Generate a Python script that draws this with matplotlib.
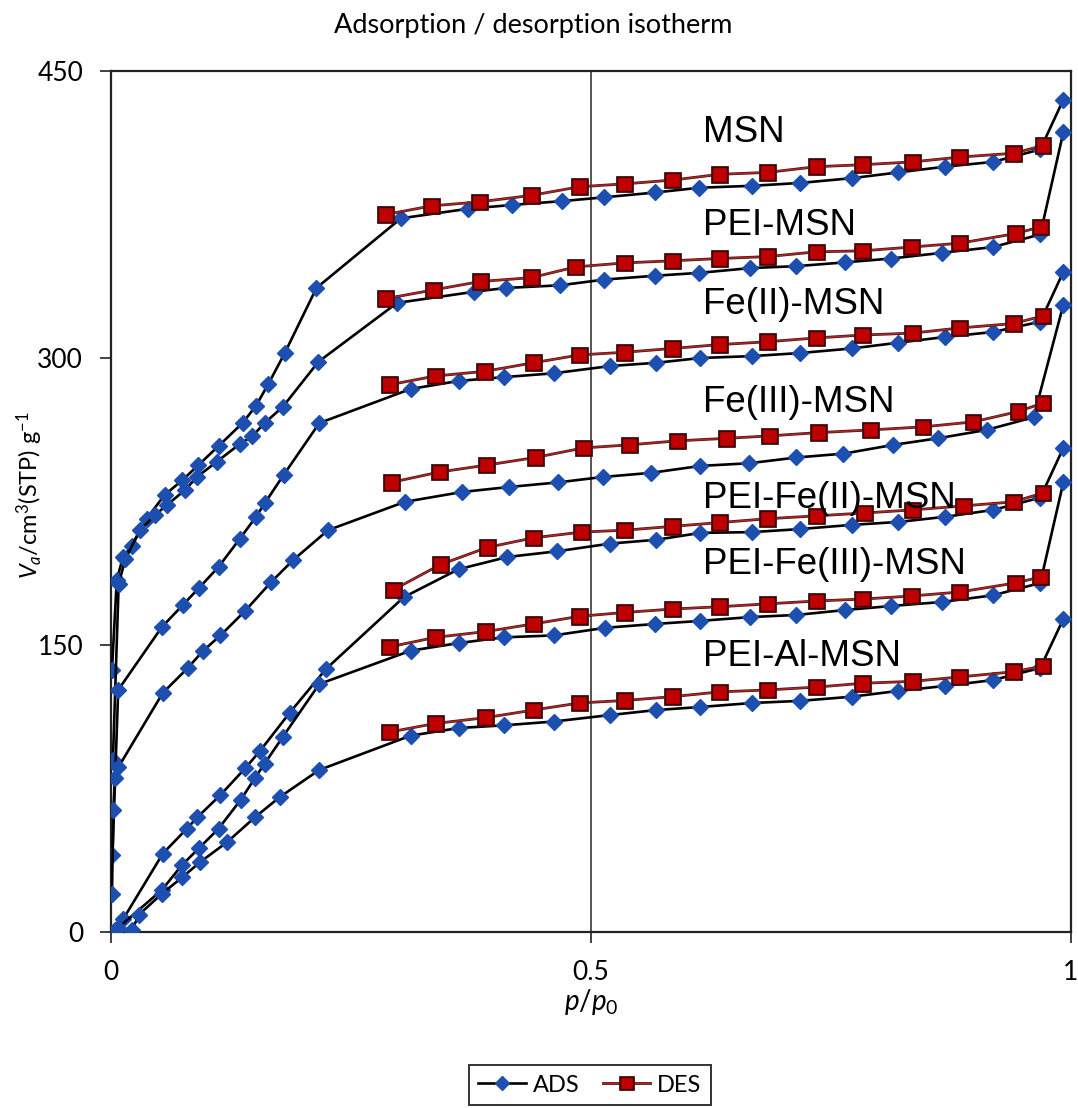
import matplotlib
matplotlib.use('Agg')
import matplotlib.pyplot as plt
import matplotlib.patheffects as pe
from matplotlib.lines import Line2D

plt.rcParams['mathtext.fontset'] = 'custom'
plt.rcParams['mathtext.rm'] = 'Lato'
plt.rcParams['mathtext.it'] = 'Lato:italic'

# ---------------- data ----------------
samples = ['MSN', 'PEI-MSN', 'Fe(II)-MSN', 'Fe(III)-MSN',
           'PEI-Fe(II)-MSN', 'PEI-Fe(III)-MSN', 'PEI-Al-MSN']

msn_ads_x = [0.001, 0.006, 0.0125, 0.022, 0.037, 0.056, 0.074, 0.091, 0.112, 0.137, 0.151, 0.164, 0.181, 0.214,
             0.302, 0.372, 0.418, 0.47, 0.514, 0.567, 0.613, 0.668, 0.718, 0.772, 0.82, 0.869, 0.919, 0.968, 0.992]
msn_ads_y = [137, 184, 196, 202, 216, 228.5, 236, 244, 254, 266, 275, 286.5, 302.6, 336.6,
             373, 378, 380, 382, 384, 386.5, 389, 390, 391.5, 394, 397, 400, 402.5, 409, 435]
msn_des_x = [0.971, 0.94, 0.884, 0.835, 0.783, 0.735, 0.684, 0.634, 0.585, 0.535, 0.488, 0.438, 0.384, 0.334, 0.286]
msn_des_y = [411, 407, 405, 402.5, 401, 400, 397, 396, 393, 391, 389.5, 385, 381.6, 379.5, 375]

pei_msn_ads_x = [0.002, 0.008, 0.015, 0.03, 0.046, 0.058, 0.077, 0.09, 0.11, 0.134, 0.147, 0.16, 0.179, 0.216,
                 0.298, 0.378, 0.411, 0.468, 0.514, 0.567, 0.613, 0.666, 0.714, 0.765, 0.813, 0.866, 0.919, 0.968, 0.992]
pei_msn_ads_y = [90, 182, 195, 210, 218, 223, 231, 238, 245.7, 255, 259, 266, 274.5, 298,
                 328.8, 334.6, 336.6, 338, 341, 343, 344.5, 347, 348, 350, 352, 355, 358, 364.6, 418]
pei_msn_des_x = [0.968, 0.942, 0.884, 0.834, 0.783, 0.735, 0.684, 0.634, 0.585, 0.535, 0.484, 0.438, 0.385, 0.336, 0.286]
pei_msn_des_y = [368.5, 365, 360, 358, 356, 355.5, 353, 352, 350.8, 349.7, 347.6, 342, 340, 335.6, 331]

fe2_msn_ads_x = [0.0015, 0.0075, 0.053, 0.075, 0.092, 0.112, 0.134, 0.151, 0.16, 0.18, 0.217,
                 0.312, 0.362, 0.409, 0.461, 0.52, 0.568, 0.614, 0.668, 0.718, 0.772, 0.82, 0.869, 0.919, 0.968, 0.992]
fe2_msn_ads_y = [40, 126.5, 159.4, 171, 180, 190.8, 205.4, 217, 224, 239, 266,
                 283.8, 288, 290, 292, 295.8, 297.5, 300, 301, 302.6, 305, 308, 311, 313.6, 319, 345]
fe2_msn_des_x = [0.971, 0.94, 0.884, 0.835, 0.783, 0.735, 0.684, 0.634, 0.585, 0.535, 0.488, 0.44, 0.389, 0.338, 0.29]
fe2_msn_des_y = [322, 318, 315.7, 313, 312, 310.5, 308.5, 307, 305, 303, 301.6, 297.5, 293, 290.6, 286]

fe3_msn_ads_x = [0.001, 0.0025, 0.004, 0.0075, 0.054, 0.08, 0.096, 0.114, 0.14, 0.167, 0.19, 0.226,
                 0.306, 0.366, 0.415, 0.466, 0.512, 0.563, 0.614, 0.665, 0.714, 0.763, 0.815, 0.861, 0.912, 0.961, 0.992]
fe3_msn_ads_y = [20, 64, 80.5, 86, 125, 138, 147, 155, 168, 183, 194.5, 210,
                 224.8, 230, 232.6, 235, 237.8, 240, 243.6, 245, 248, 250, 254.6, 258, 262.4, 269, 327.8]
fe3_msn_des_x = [0.971, 0.945, 0.898, 0.846, 0.791, 0.737, 0.686, 0.641, 0.59, 0.54, 0.492, 0.442, 0.391, 0.342, 0.292]
fe3_msn_des_y = [276.5, 272, 266.6, 264, 262.4, 261, 259.3, 258, 256.7, 254.6, 253, 248, 244, 240.4, 235]

pei_fe2_ads_x = [0.004, 0.013, 0.054, 0.079, 0.09, 0.114, 0.14, 0.155, 0.186, 0.224,
                 0.305, 0.362, 0.413, 0.465, 0.52, 0.568, 0.614, 0.668, 0.718, 0.772, 0.82, 0.869, 0.919, 0.968, 0.992]
pei_fe2_ads_y = [1, 7, 41, 54, 60, 71.6, 85.7, 94.5, 114.5, 137.5,
                 175, 189.6, 196, 199, 203, 205, 208.6, 209, 210.6, 212.8, 214.3, 217, 220.6, 227, 253]
pei_fe2_des_x = [0.971, 0.94, 0.888, 0.835, 0.785, 0.735, 0.684, 0.634, 0.585, 0.535, 0.49, 0.44, 0.392, 0.343, 0.294]
pei_fe2_des_y = [229.5, 224.8, 222.7, 220.6, 219, 217.5, 216, 214, 212, 210, 209, 206, 201, 192, 178.8]

pei_fe3_ads_x = [0.007, 0.053, 0.074, 0.092, 0.112, 0.135, 0.15, 0.16, 0.179, 0.217,
                 0.312, 0.362, 0.409, 0.461, 0.515, 0.567, 0.614, 0.666, 0.714, 0.765, 0.813, 0.866, 0.919, 0.968, 0.992]
pei_fe3_ads_y = [2, 22, 35, 44, 54, 69, 80.5, 88, 102, 129.6,
                 147, 151, 154, 155, 159, 161, 162.6, 164.6, 165.7, 168.3, 170.4, 172.5, 176, 182.4, 235]
pei_fe3_des_x = [0.968, 0.942, 0.884, 0.834, 0.783, 0.735, 0.684, 0.634, 0.585, 0.535, 0.488, 0.44, 0.39, 0.338, 0.29]
pei_fe3_des_y = [185.5, 182.4, 177.7, 175.6, 174, 173, 171.5, 170, 168.8, 167, 165, 161, 157, 154, 149]

pei_al_ads_x = [0.022, 0.029, 0.053, 0.074, 0.093, 0.121, 0.15, 0.176, 0.217,
                0.312, 0.362, 0.409, 0.461, 0.52, 0.568, 0.614, 0.668, 0.718, 0.772, 0.82, 0.869, 0.919, 0.968, 0.992]
pei_al_ads_y = [1, 9, 20, 28.5, 36.6, 47, 60, 70.6, 84.7,
                102.6, 106.6, 108, 110, 113.4, 116, 117.6, 119.7, 120.8, 123, 126, 128.6, 131.7, 138, 163.6]
pei_al_des_x = [0.971, 0.94, 0.884, 0.835, 0.783, 0.735, 0.684, 0.634, 0.585, 0.535, 0.488, 0.44, 0.39, 0.338, 0.29]
pei_al_des_y = [139, 136, 133.3, 131, 130, 128, 126.5, 125.5, 123, 121, 119.7, 116, 112, 109, 104.5]

y_ticks = [0, 150, 300, 450]
x_ticks = [0, 0.5, 1]
x_ticklabels = ['0', '0.5', '1']

series = [
    (msn_ads_x, msn_ads_y, msn_des_x, msn_des_y),
    (pei_msn_ads_x, pei_msn_ads_y, pei_msn_des_x, pei_msn_des_y),
    (fe2_msn_ads_x, fe2_msn_ads_y, fe2_msn_des_x, fe2_msn_des_y),
    (fe3_msn_ads_x, fe3_msn_ads_y, fe3_msn_des_x, fe3_msn_des_y),
    (pei_fe2_ads_x, pei_fe2_ads_y, pei_fe2_des_x, pei_fe2_des_y),
    (pei_fe3_ads_x, pei_fe3_ads_y, pei_fe3_des_x, pei_fe3_des_y),
    (pei_al_ads_x, pei_al_ads_y, pei_al_des_x, pei_al_des_y),
]

# label placement (layout, in data coords: left x, baseline y)
label_x = 0.617
label_base_y = [413, 364.4, 323, 272, 221.5, 187, 139]

# ---------------- figure ----------------
W, H = 1078, 1108
fig = plt.figure(figsize=(W / 100, H / 100), dpi=100)
ax = fig.add_axes([111 / W, (H - 932) / H, 960 / W, 861 / H])

ads_kw = dict(color='black', lw=1.9, marker='D', ms=8.5, mfc='#1d4fb0', mec='#1d4fb0', mew=1.0, zorder=3)
des_kw = dict(color='#c02020', lw=1.0, marker='s', ms=10.5, mfc='#c00000', mec='#4a0000', mew=1.0, zorder=4,
              path_effects=[pe.Stroke(linewidth=2.0, foreground='#3a1a1a'), pe.Normal()])

for (ax_x, ax_y, dx, dy) in series:
    ax.plot(ax_x, ax_y, **ads_kw)
    ax.plot(dx, dy, **des_kw)

for name, yb in zip(samples, label_base_y):
    ax.text(label_x, yb, name, fontsize=26.5, family='Liberation Sans', va='baseline', ha='left', zorder=6)

ax.axvline(0.5, color='#555555', lw=1.4, zorder=1)

ax.set_xlim(0, 1)
ax.set_ylim(0, 450)
ax.set_xticks(x_ticks)
ax.set_xticklabels(x_ticklabels)
ax.set_yticks(y_ticks)
for sp in ax.spines.values():
    sp.set_linewidth(1.6)
    sp.set_color('#222222')
ax.tick_params(axis='both', direction='out', length=8, width=1.3, color='#333333',
               labelsize=19, labelcolor='black')
ax.tick_params(axis='y', pad=12)
ax.tick_params(axis='x', pad=12)
for lab in ax.get_xticklabels() + ax.get_yticklabels():
    lab.set_family('Lato')

fig.text(533 / W, 1 - 33 / H, 'Adsorption / desorption isotherm', fontsize=19.5, family='Lato',
         ha='center', va='baseline')
fig.text(30 / W, 1 - 495 / H, r'$V_a$/cm$^3$(STP) g$^{-1}$', fontsize=17, family='Lato',
         rotation=90, ha='center', va='center')
fig.text(591 / W, 1 - 1002 / H, r'$p/p_0$', fontsize=20, family='Lato', ha='center', va='center')

h_ads = Line2D([], [], color='black', lw=1.9, marker='D', ms=7, mfc='#1d4fb0', mec='#1d4fb0')
h_des = Line2D([], [], color='#c02020', lw=1.0, marker='s', ms=9, mfc='#c00000', mec='#4a0000',
               path_effects=[pe.Stroke(linewidth=2.0, foreground='#3a1a1a'), pe.Normal()])
leg = fig.legend([h_ads, h_des], ['ADS', 'DES'], loc='center', bbox_to_anchor=(590 / W, 1 - 1085 / H),
                 ncol=2, frameon=True, fancybox=False, edgecolor='black',
                 handlelength=2.0, columnspacing=1.0, handletextpad=0.3, borderpad=0.4,
                 prop={'family': 'Lato', 'size': 17})
leg.get_frame().set_linewidth(1.4)

fig.savefig('out.png', dpi=100, facecolor='white')
